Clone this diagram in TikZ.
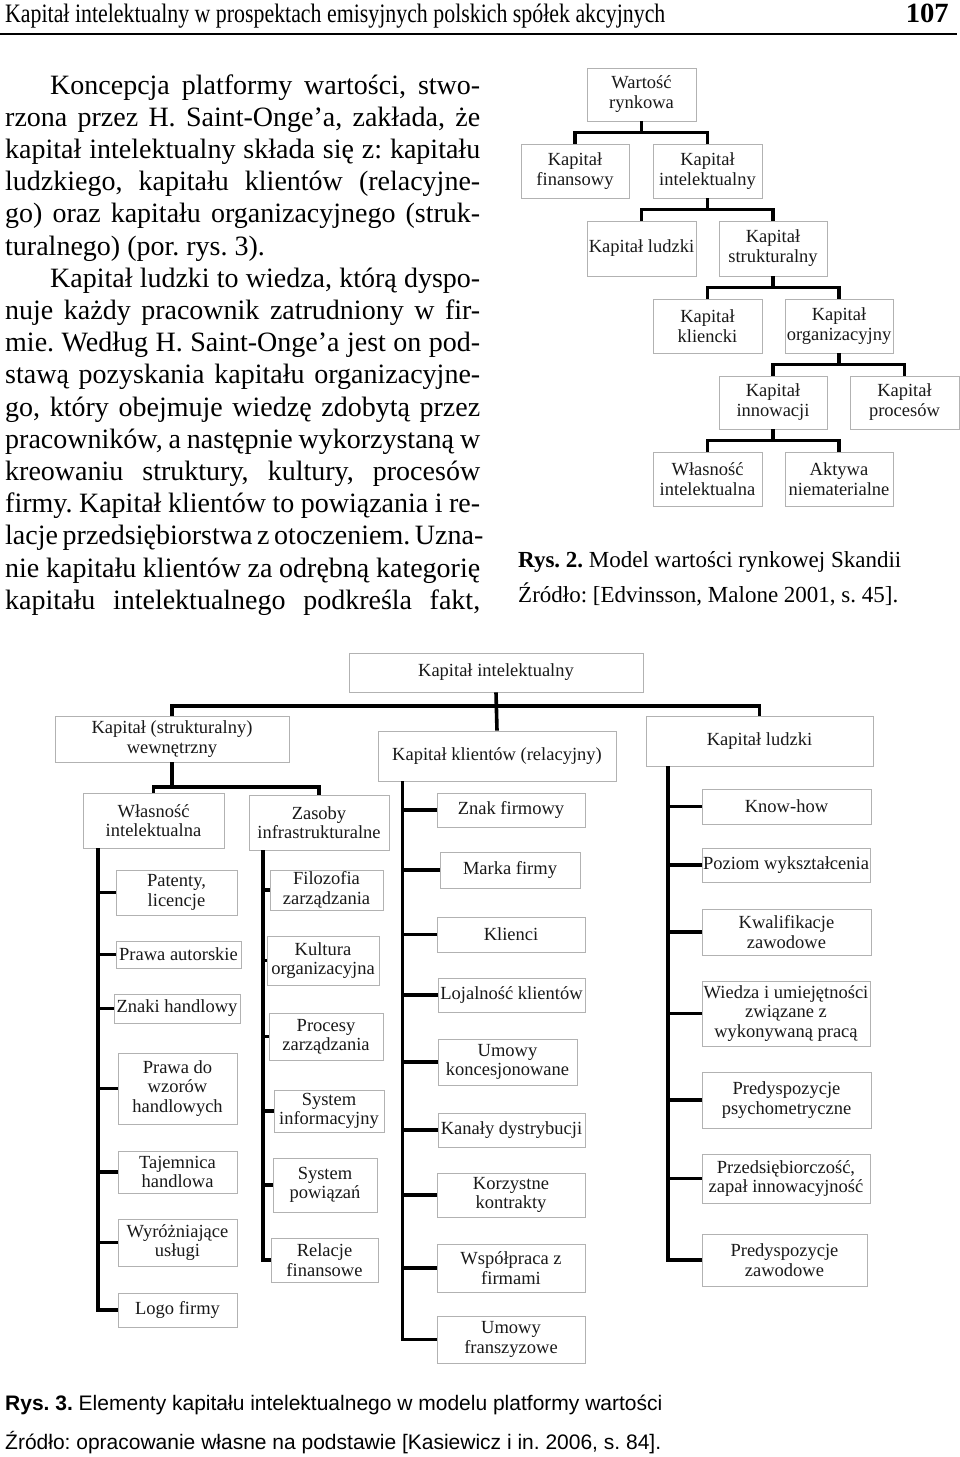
\documentclass[tikz,border=0pt]{standalone}
\usepackage{fontspec}
\setmainfont{Liberation Serif}
\newfontfamily\capsans{Liberation Sans}
\usetikzlibrary{calc}
\newcommand\bodyfont{\fontsize{28}{32}\selectfont\frenchspacing}
\newcommand\boxfont{\fontsize{18.5}{19.5}\selectfont}
\newcommand\skfont{\fontsize{18.5}{20}\selectfont}
\newcommand\jl[2]{\makebox[#1pt][s]{#2}}
\tikzset{
  box/.style={draw=gray!60, line width=0.9pt, fill=white, inner sep=0pt,
    align=center, font=\boxfont, text=black!90},
  skbox/.style={box, font=\skfont},
  conn/.style={line width=3.6pt, line join=miter, black},
  bodyt/.style={inner sep=0pt, anchor=base west, font=\bodyfont},
  capt/.style={inner sep=0pt, anchor=base west, font=\fontsize{23}{26}\selectfont\frenchspacing},
  capb/.style={inner sep=0pt, anchor=base west, font=\capsans\fontsize{21}{24}\selectfont\frenchspacing},
}
% box from corner (x1,y1) to (x2,y2) in image pixels
\newcommand\bx[7][box]{\node[#1, minimum width={(#5-#3)*1pt}, minimum height={(#6-#4)*1pt}] (#2) at ({(#3+#5)/2},{(#4+#6)/2}) {#7};}
% fork from parent #1 to two children #2, #3
\newcommand\forktwo[3]{%
  \coordinate (m#1) at ($(#1.south)!0.5!(#2.north)$);
  \draw[conn] (#1.south) -- (#1.south |- m#1);
  \draw[conn] (#2.north) |- (m#1 -| #3.north) -- (#3.north);
}
\begin{document}
\begin{tikzpicture}[x=1pt,y=-1pt]
\useasboundingbox (0,0) rectangle (960,1457);
\fill[white] (0,0) rectangle (960,1457);

% ---------- header ----------
\node[inner sep=0pt, anchor=base west] (hdr) at (5,22)
  {\resizebox{660pt}{18.5pt}{Kapitał intelektualny w prospektach emisyjnych polskich spółek akcyjnych}};
\node[inner sep=0pt, anchor=base east] (pg) at (949,22)
  {\resizebox{43pt}{18.5pt}{\bfseries 107}};
\coordinate (rl) at (0,34);
\coordinate (rr) at (957,34);
\draw[line width=2pt] (rl) -- (rr);

% ---------- body text ----------
\node[bodyt] (t1) at (50,94) {\jl{430}{Koncepcja platformy wartości, stwo-}};
\node[bodyt] (t2) at (5,126.2) {\jl{475}{rzona przez H. Saint-Onge’a, zakłada, że}};
\node[bodyt] (t3) at (5,158.4) {\jl{475}{kapitał intelektualny składa się z: kapitału}};
\node[bodyt] (t4) at (5,190.6) {\jl{475}{ludzkiego, kapitału klientów (relacyjne-}};
\node[bodyt] (t5) at (5,222.8) {\jl{475}{go) oraz kapitału organizacyjnego (struk-}};
\node[bodyt] (t6) at (5,255) {turalnego) (por. rys. 3).};
\node[bodyt] (t7) at (50,287.2) {\jl{430}{Kapitał ludzki to wiedza, którą dyspo-}};
\node[bodyt] (t8) at (5,319.4) {\jl{475}{nuje każdy pracownik zatrudniony w fir-}};
\node[bodyt] (t9) at (5,351.6) {\jl{475}{mie. Według H. Saint-Onge’a jest on pod-}};
\node[bodyt] (t10) at (5,383.8) {\jl{475}{stawą pozyskania kapitału organizacyjne-}};
\node[bodyt] (t11) at (5,416) {\jl{475}{go, który obejmuje wiedzę zdobytą przez}};
\node[bodyt] (t12) at (5,448.2) {\jl{475}{pracowników, a następnie wykorzystaną w}};
\node[bodyt] (t13) at (5,480.4) {\jl{475}{kreowaniu struktury, kultury, procesów}};
\node[bodyt] (t14) at (5,512.6) {\jl{475}{firmy. Kapitał klientów to powiązania i re-}};
\node[bodyt] (t15) at (5,544.8) {\jl{475}{lacje przedsiębiorstwa z otoczeniem. Uzna-}};
\node[bodyt] (t16) at (5,577) {\jl{475}{nie kapitału klientów za odrębną kategorię}};
\node[bodyt] (t17) at (5,609.2) {\jl{475}{kapitału intelektualnego podkreśla fakt,}};

% ---------- Rys. 2 : Skandia ----------
\bx[skbox]{wr}{587}{68}{696}{121}{Wartość\\rynkowa}
\bx[skbox]{kf}{521}{144}{629}{198}{Kapitał\\finansowy}
\bx[skbox]{kin}{653}{144}{762}{198}{Kapitał\\intelektualny}
\bx[skbox]{kld}{587}{221}{696}{276}{Kapitał ludzki}
\bx[skbox]{kst}{719}{221}{827}{276}{Kapitał\\strukturalny}
\bx[skbox]{kkl}{653}{299}{762}{353}{Kapitał\\kliencki}
\bx[skbox]{kor}{785}{299}{893}{353}{Kapitał\\organizacyjny}
\bx[skbox]{kinn}{719}{376}{827}{429}{Kapitał\\innowacji}
\bx[skbox]{kpr}{850}{376}{959}{429}{Kapitał\\procesów}
\bx[skbox]{wint}{653}{452}{762}{506}{Własność\\intelektualna}
\bx[skbox]{anm}{785}{452}{893}{506}{Aktywa\\niematerialne}
\forktwo{wr}{kf}{kin}
\forktwo{kin}{kld}{kst}
\forktwo{kst}{kkl}{kor}
\forktwo{kor}{kinn}{kpr}
\forktwo{kinn}{wint}{anm}

\node[capt] (c2a) at (518,567) {\textbf{Rys. 2.} Model wartości rynkowej Skandii};
\node[capt] (c2b) at (518,602) {Źródło: [Edvinsson, Malone 2001, s. 45].};

% ---------- Rys. 3 ----------
\bx{ki}{349}{653}{643}{692}{Kapitał intelektualny}
\bx{ks}{55}{716}{289}{762}{Kapitał (strukturalny)\\wewnętrzny}
\bx{kk}{378}{731}{616}{781}{Kapitał klientów (relacyjny)}
\bx{kl}{646}{716}{873}{766}{Kapitał ludzki}
\coordinate (bar) at (0,706);
\draw[conn] (ki.south) -- (kk.north);
\draw[conn] (ks.north) -- (ks.north |- bar) -- (kl.north |- bar) -- (kl.north);

% strukturalny
\bx{wi}{83}{793}{224}{848}{Własność\\intelektualna}
\bx{zi}{249}{795}{389}{850}{Zasoby\\infrastrukturalne}
\coordinate (bar2) at (0,787);
\draw[conn] (ks.south) -- (ks.south |- bar2);
\draw[conn] (wi.north) |- (bar2 -| zi.north) -- (zi.north);

\bx{pl}{116}{870}{237}{915}{Patenty,\\licencje}
\bx{pa}{116}{941}{241}{968}{Prawa autorskie}
\bx{zh}{114}{994}{240}{1023}{Znaki handlowy}
\bx{pwz}{118}{1053}{237}{1124}{Prawa do\\wzorów\\handlowych}
\bx{th}{118}{1151}{237}{1193}{Tajemnica\\handlowa}
\bx{wu}{118}{1219}{237}{1266}{Wyróżniające\\usługi}
\bx{lf}{118}{1293}{237}{1327}{Logo firmy}
\coordinate (sL) at (98,0);
\draw[conn] (wi.south -| sL) -- (lf.west -| sL) -- (lf.west);
\foreach \c in {pl,pa,zh,pwz,th,wu} \draw[conn] (\c.west -| sL) -- (\c.west);

\bx{fz}{270}{870}{383}{910}{Filozofia\\zarządzania}
\bx{ko}{267}{936}{379}{985}{Kultura\\organizacyjna}
\bx{pz}{269}{1013}{383}{1060}{Procesy\\zarządzania}
\bx{si}{274}{1090}{384}{1132}{System\\informacyjny}
\bx{sp}{273}{1158}{377}{1212}{System\\powiązań}
\bx{rf}{271}{1238}{378}{1282}{Relacje\\finansowe}
\coordinate (sZ) at (263,0);
\draw[conn] (zi.south -| sZ) -- (rf.west -| sZ) -- (rf.west);
\foreach \c in {fz,ko,pz,si,sp} \draw[conn] (\c.west -| sZ) -- (\c.west);

% klientow
\bx{zf}{437}{793}{585}{827}{Znak firmowy}
\bx{mf}{440}{852}{580}{888}{Marka firmy}
\bx{kc}{437}{917}{585}{952}{Klienci}
\bx{lk}{438}{978}{585}{1012}{Lojalność klientów}
\bx{uk}{438}{1039}{577}{1085}{Umowy\\koncesjonowane}
\bx{kd}{438}{1113}{585}{1147}{Kanały dystrybucji}
\bx{kt}{437}{1173}{585}{1217}{Korzystne\\kontrakty}
\bx{wf}{437}{1244}{585}{1292}{Współpraca z\\firmami}
\bx{uf}{437}{1316}{585}{1363}{Umowy\\franszyzowe}
\coordinate (sK) at (402.5,0);
\draw[conn] (kk.south -| sK) -- (uf.west -| sK) -- (uf.west);
\foreach \c in {zf,mf,kc,lk,uk,kd,kt,wf} \draw[conn] (\c.west -| sK) -- (\c.west);

% ludzki
\bx{kh}{702}{789}{871}{824}{Know-how}
\bx{pwy}{702}{848}{870}{882}{Poziom wykształcenia}
\bx{kz}{702}{909}{871}{955}{Kwalifikacje\\zawodowe}
\bx{wum}{702}{981}{870}{1046}{Wiedza i umiejętności\\związane z\\wykonywaną pracą}
\bx{pp}{702}{1072}{871}{1128}{Predyspozycje\\psychometryczne}
\bx{pi}{702}{1154}{870}{1203}{Przedsiębiorczość,\\zapał innowacyjność}
\bx{pzw}{702}{1234}{867}{1286}{Predyspozycje\\zawodowe}
\coordinate (sH) at (668,0);
\draw[conn] (kl.south -| sH) -- (pzw.west -| sH) -- (pzw.west);
\foreach \c in {kh,pwy,kz,wum,pp,pi} \draw[conn] (\c.west -| sH) -- (\c.west);

% captions
\node[capb] (c3a) at (5,1410) {\textbf{Rys. 3.} Elementy kapitału intelektualnego w modelu platformy wartości};
\node[capb] (c3b) at (5,1449) {Źródło: opracowanie własne na podstawie [Kasiewicz i in. 2006, s. 84].};
\end{tikzpicture}
\end{document}
